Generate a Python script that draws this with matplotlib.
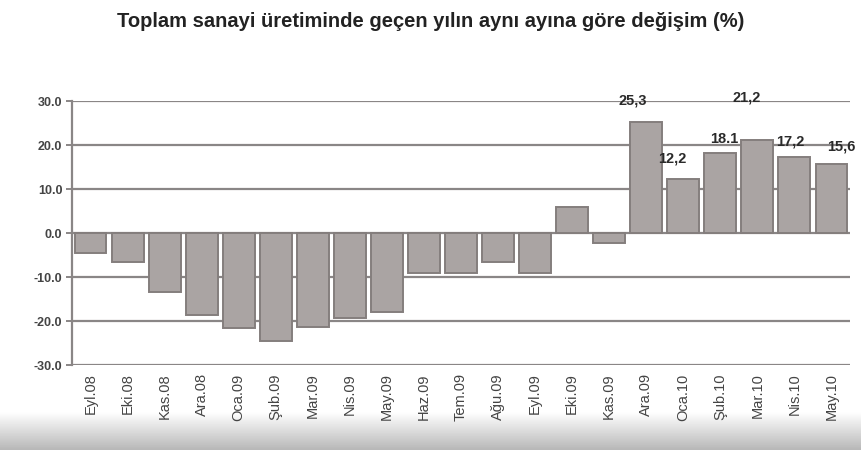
import numpy as np
import matplotlib
matplotlib.use("Agg")
import matplotlib.pyplot as plt

months = ["Eyl.08", "Eki.08", "Kas.08", "Ara.08", "Oca.09", "Şub.09", "Mar.09",
          "Nis.09", "May.09", "Haz.09", "Tem.09", "Ağu.09", "Eyl.09", "Eki.09",
          "Kas.09", "Ara.09", "Oca.10", "Şub.10", "Mar.10", "Nis.10", "May.10"]
change = [-4.5, -6.7, -13.4, -18.6, -21.7, -24.5, -21.3, -19.4, -18.0, -9.1,
          -9.1, -6.7, -9.1, 5.8, -2.2, 25.3, 12.2, 18.1, 21.2, 17.2, 15.6]
labels = {15: "25,3", 16: "12,2", 17: "18.1", 18: "21,2", 19: "17,2", 20: "15,6"}
# label offsets in points (dx, dy above bar top)
label_off = {15: (-10, 10), 16: (-8, 10), 17: (3, 5), 18: (-8, 25), 19: (-3, 6), 20: (7, 8)}

plt.rcParams["font.family"] = ["Liberation Sans", "DejaVu Sans"]

fig = plt.figure(figsize=(8.61, 4.5), dpi=100)
ax = fig.add_axes([72 / 861, 1 - 365 / 450, (850 - 72) / 861, (365 - 101) / 450])

x = np.arange(len(months))
for yv in [30, 20, 10, 0, -10, -20, -30]:
    ax.axhline(yv, color="#8a8686", lw=1.6, zorder=1)
ax.bar(x, change, width=0.86, color="#aaa4a3", edgecolor="#847e7d", lw=1.4, zorder=2)

for i, txt in labels.items():
    dx, dy = label_off[i]
    ax.annotate(txt, (x[i], change[i]), xytext=(dx, dy), textcoords="offset points",
                ha="center", va="bottom", fontsize=10.5, fontweight="bold", color="#2a2a2a")

ax.set_xlim(-0.5, len(months) - 0.5)
ax.set_ylim(-30, 30)
ax.set_yticks([30, 20, 10, 0, -10, -20, -30])
ax.set_yticklabels(["30.0", "20.0", "10.0", "0.0", "-10.0", "-20.0", "-30.0"],
                   fontsize=9, fontweight="bold", color="#444444")
ax.set_xticks(x)
ax.set_xticklabels(months, rotation=90, fontsize=10.5, color="#444444")
ax.tick_params(axis="x", length=0, pad=6)
ax.tick_params(axis="y", length=4, color="#8a8686", width=1.4, pad=3)
for s in ["top", "right", "bottom"]:
    ax.spines[s].set_visible(False)
ax.spines["left"].set_color("#8a8686")
ax.spines["left"].set_linewidth(1.6)

fig.text(0.5, 0.953, "Toplam sanayi üretiminde geçen yılın aynı ayına göre değişim (%)",
         ha="center", va="center", fontsize=14.5, fontweight="bold", color="#222222")

# grey shadow along the bottom edge
sh = fig.add_axes([0, 0, 1, 38 / 450], zorder=-1)
grad = np.linspace(0.72, 1.0, 60).reshape(-1, 1)
sh.imshow(grad, aspect="auto", cmap="gray", vmin=0, vmax=1, origin="lower",
          extent=[0, 1, 0, 1])
sh.axis("off")

fig.savefig("out.png", dpi=100)
